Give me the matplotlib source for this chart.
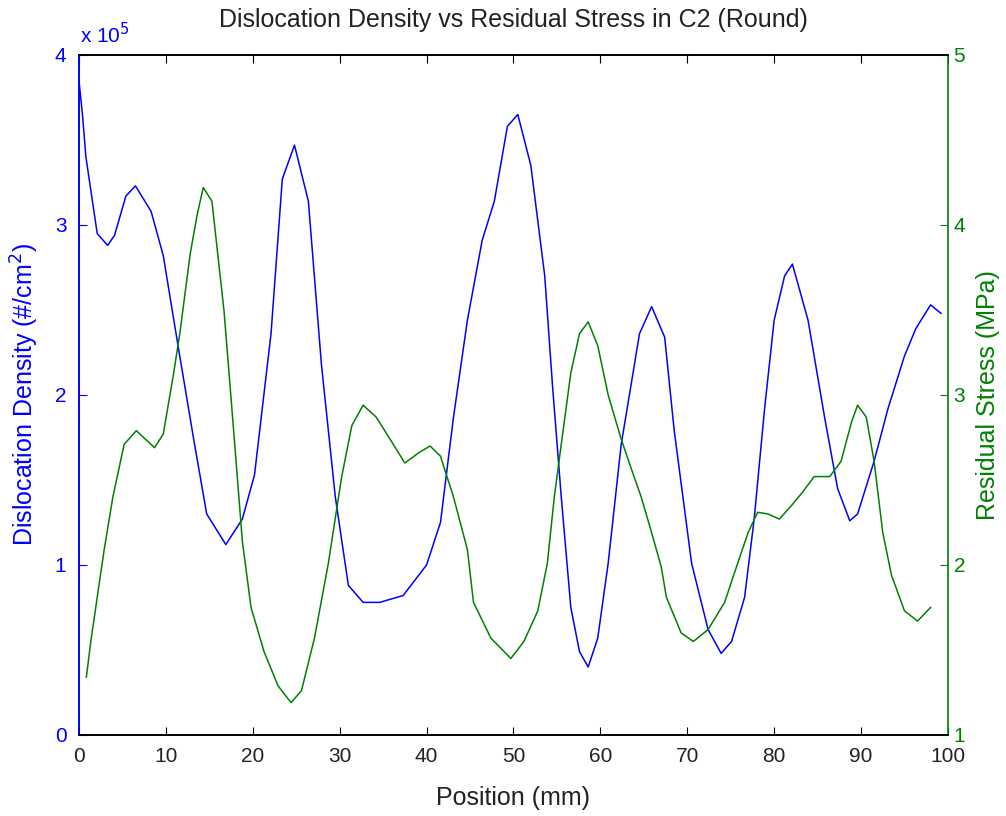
import matplotlib.pyplot as plt

plt.rcParams['font.family'] = ['Liberation Sans', 'DejaVu Sans']

# dislocation density (x 10^5 #/cm^2) along position (mm)
pos_density = [0, 0.4, 0.8, 1.55, 2.1, 3.3, 4.1, 5.4, 6.5, 8.3, 9.7, 11.4, 13.2, 14.7, 16.9,
               18.8, 20.2, 22.1, 23.4, 24.8, 26.4, 27.9, 29.5, 31.0, 32.7, 34.6, 37.3, 40.0,
               41.6, 43.1, 44.7, 46.4, 47.8, 49.3, 50.5, 52.0, 53.6, 54.5, 55.5, 56.6, 57.6,
               58.6, 59.7, 60.9, 62.4, 63.6, 64.5, 65.9, 67.4, 68.5, 70.5, 72.4, 73.9, 75.1,
               76.6, 77.7, 78.9, 80.0, 81.2, 82.1, 83.9, 85.8, 87.3, 88.7, 89.6, 91.5, 93.1,
               95.0, 96.3, 98.0, 99.2]
density_e5 = [3.85, 3.65, 3.40, 3.14, 2.95, 2.88, 2.94, 3.17, 3.23, 3.08, 2.82, 2.29, 1.74, 1.30,
              1.12, 1.27, 1.53, 2.36, 3.27, 3.47, 3.14, 2.18, 1.40, 0.88, 0.78, 0.78, 0.82, 1.00,
              1.25, 1.87, 2.44, 2.91, 3.14, 3.58, 3.65, 3.35, 2.70, 2.05, 1.40, 0.75, 0.49,
              0.40, 0.57, 1.01, 1.71, 2.08, 2.36, 2.52, 2.34, 1.79, 1.01, 0.62, 0.48, 0.55,
              0.81, 1.27, 1.92, 2.44, 2.70, 2.77, 2.44, 1.87, 1.45, 1.26, 1.30, 1.61, 1.92,
              2.23, 2.39, 2.53, 2.48]

# residual stress (MPa) along position (mm)
pos_stress = [0.85, 1.36, 2.1, 2.9, 3.9, 5.2, 6.6, 8.7, 9.7, 10.9, 11.6, 12.8, 13.6, 14.3, 15.3,
              16.7, 17.8, 18.8, 19.8, 21.3, 22.9, 24.4, 25.6, 27.1, 28.7, 30.2, 31.4, 32.7,
              34.2, 35.8, 37.5, 39.1, 40.4, 41.6, 43.1, 44.7, 45.4, 47.4, 49.7, 51.2, 52.8,
              53.9, 54.7, 55.5, 56.6, 57.6, 58.6, 59.7, 60.9, 62.4, 63.6, 64.7, 65.9, 67.0,
              67.6, 69.3, 70.7, 72.4, 74.3, 75.8, 77.0, 78.1, 79.3, 80.6, 82.0, 83.3, 84.6,
              86.4, 87.7, 88.9, 89.6, 90.6, 91.5, 92.5, 93.5, 95.0, 96.5, 98.0]
stress = [1.34, 1.55, 1.81, 2.09, 2.40, 2.71, 2.79, 2.69, 2.77, 3.13, 3.36, 3.83, 4.06, 4.22, 4.14,
          3.49, 2.79, 2.14, 1.75, 1.49, 1.29, 1.19, 1.26, 1.57, 2.01, 2.51, 2.82, 2.94,
          2.87, 2.74, 2.60, 2.66, 2.70, 2.64, 2.40, 2.09, 1.78, 1.57, 1.45, 1.55, 1.73,
          2.01, 2.40, 2.71, 3.13, 3.36, 3.43, 3.29, 3.00, 2.74, 2.56, 2.40, 2.19, 1.99,
          1.81, 1.60, 1.55, 1.62, 1.78, 2.01, 2.19, 2.31, 2.30, 2.27, 2.35, 2.43, 2.52,
          2.52, 2.61, 2.84, 2.94, 2.87, 2.61, 2.19, 1.94, 1.73, 1.67, 1.75]

x_ticks = list(range(0, 101, 10))
left_ticks = [0, 1, 2, 3, 4]
right_ticks = [1, 2, 3, 4, 5]

blue = '#0000ff'
green = '#008000'
text_col = '#222222'
fs_tick = 15
fs_label = 18

fig = plt.figure(figsize=(10.06, 8.16), dpi=100)
ax = fig.add_axes([0.0785, 0.0993, 0.8638, 0.8333])
ax2 = ax.twinx()

ax.plot(pos_density, density_e5, color=blue, lw=1.1)
ax2.plot(pos_stress, stress, color=green, lw=1.1)

ax.set_xlim(0, 100)
ax.set_ylim(0, 4)
ax2.set_ylim(1, 5)
ax.set_xticks(x_ticks)
ax.set_yticks(left_ticks)
ax2.set_yticks(right_ticks)

ax.tick_params(axis='x', direction='in', top=True, length=6, labelsize=fs_tick, pad=9,
               labelcolor=text_col)
ax.tick_params(axis='y', direction='in', colors=blue, length=6, labelsize=fs_tick, pad=9)
ax2.tick_params(axis='y', direction='in', colors=green, length=6, labelsize=fs_tick, pad=4)

ax.spines['left'].set_color(blue)
ax2.spines['left'].set_color(blue)
ax2.spines['right'].set_color(green)
ax.spines['right'].set_visible(False)
for a in (ax, ax2):
    for s in a.spines.values():
        s.set_linewidth(1.2)

ax.text(0.001, 1.012, r'x 10$^5$', transform=ax.transAxes, color=blue, fontsize=fs_tick,
        ha='left', va='bottom')

ax.set_title('Dislocation Density vs Residual Stress in C2 (Round)', fontsize=fs_label,
             pad=20, color=text_col)
ax.set_xlabel('Position (mm)', fontsize=fs_label, labelpad=14, color=text_col)
ax.set_ylabel('Dislocation Density (#/cm$^2$)', color=blue, fontsize=fs_label, labelpad=10)
ax2.set_ylabel('Residual Stress (MPa)', color=green, fontsize=fs_label, labelpad=8)

fig.savefig('out.png', dpi=100)
